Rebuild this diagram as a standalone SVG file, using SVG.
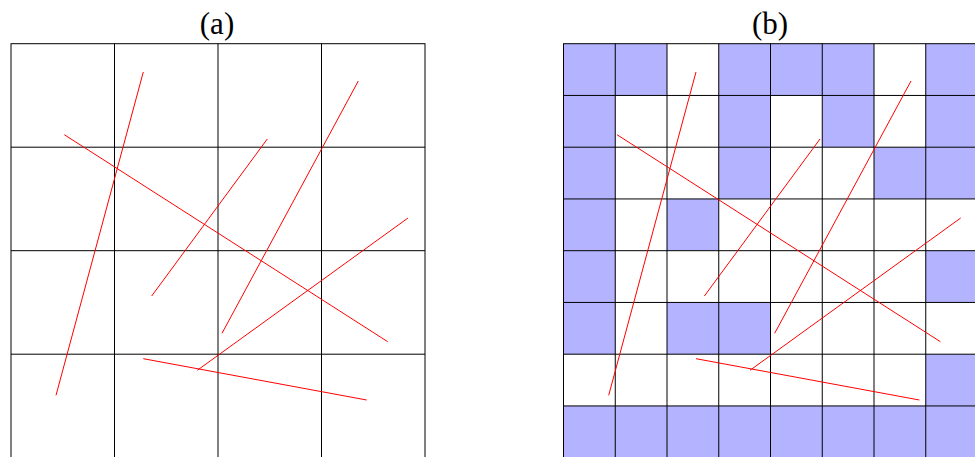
<svg xmlns="http://www.w3.org/2000/svg" width="975" height="457" viewBox="0 0 975 457">
<style>
.t{font-family:"Liberation Serif","DejaVu Serif",serif;font-size:31px;fill:#000;text-anchor:middle}
.g{stroke:#000;stroke-width:1;fill:none}
.r{stroke:#ff0000;stroke-width:1;fill:none}
.f{fill:#b3b3ff}
</style>
<defs>
<g id="segs">
<line x1="143.3" y1="72" x2="56" y2="395.3"/>
<line x1="64.3" y1="134.7" x2="387.7" y2="341.7"/>
<line x1="267.3" y1="139" x2="151.7" y2="296"/>
<line x1="358.3" y1="81" x2="222" y2="333.3"/>
<line x1="408" y1="218" x2="197.3" y2="370.3"/>
<line x1="143.3" y1="358.7" x2="366.7" y2="400"/>
</g>
</defs>
<rect width="975" height="457" fill="#fff"/>
<g id="panel-a">
<text class="t" x="217" y="34">(a)</text>
<g class="g">
<rect x="11" y="43.7" width="414" height="414"/>
<line x1="114.5" y1="43.7" x2="114.5" y2="457.7"/>
<line x1="218" y1="43.7" x2="218" y2="457.7"/>
<line x1="321.5" y1="43.7" x2="321.5" y2="457.7"/>
<line x1="11" y1="147.2" x2="425" y2="147.2"/>
<line x1="11" y1="250.7" x2="425" y2="250.7"/>
<line x1="11" y1="354.2" x2="425" y2="354.2"/>
</g>
<use href="#segs" class="r"/>
</g>
<g id="panel-b">
<text class="t" x="770" y="34">(b)</text>
<g class="f">
<rect x="563.5" y="43.7" width="103.5" height="51.75"/>
<rect x="718.75" y="43.7" width="155.25" height="51.75"/>
<rect x="925.75" y="43.7" width="51.75" height="155.25"/>
<rect x="563.5" y="95.45" width="51.75" height="258.75"/>
<rect x="718.75" y="95.45" width="51.75" height="103.5"/>
<rect x="822.25" y="95.45" width="51.75" height="51.75"/>
<rect x="874" y="147.2" width="51.75" height="51.75"/>
<rect x="667" y="198.95" width="51.75" height="51.75"/>
<rect x="925.75" y="250.7" width="51.75" height="51.75"/>
<rect x="667" y="302.45" width="103.5" height="51.75"/>
<rect x="925.75" y="354.2" width="51.75" height="51.75"/>
<rect x="563.5" y="405.95" width="414" height="51.75"/>
</g>
<g class="g">
<rect x="563.5" y="43.7" width="414" height="414"/>
<line x1="615.25" y1="43.7" x2="615.25" y2="457.7"/>
<line x1="667" y1="43.7" x2="667" y2="457.7"/>
<line x1="718.75" y1="43.7" x2="718.75" y2="457.7"/>
<line x1="770.5" y1="43.7" x2="770.5" y2="457.7"/>
<line x1="822.25" y1="43.7" x2="822.25" y2="457.7"/>
<line x1="874" y1="43.7" x2="874" y2="457.7"/>
<line x1="925.75" y1="43.7" x2="925.75" y2="457.7"/>
<line x1="563.5" y1="95.45" x2="977.5" y2="95.45"/>
<line x1="563.5" y1="147.2" x2="977.5" y2="147.2"/>
<line x1="563.5" y1="198.95" x2="977.5" y2="198.95"/>
<line x1="563.5" y1="250.7" x2="977.5" y2="250.7"/>
<line x1="563.5" y1="302.45" x2="977.5" y2="302.45"/>
<line x1="563.5" y1="354.2" x2="977.5" y2="354.2"/>
<line x1="563.5" y1="405.95" x2="977.5" y2="405.95"/>
</g>
<use href="#segs" class="r" transform="translate(552.7,0)"/>
</g>
</svg>
